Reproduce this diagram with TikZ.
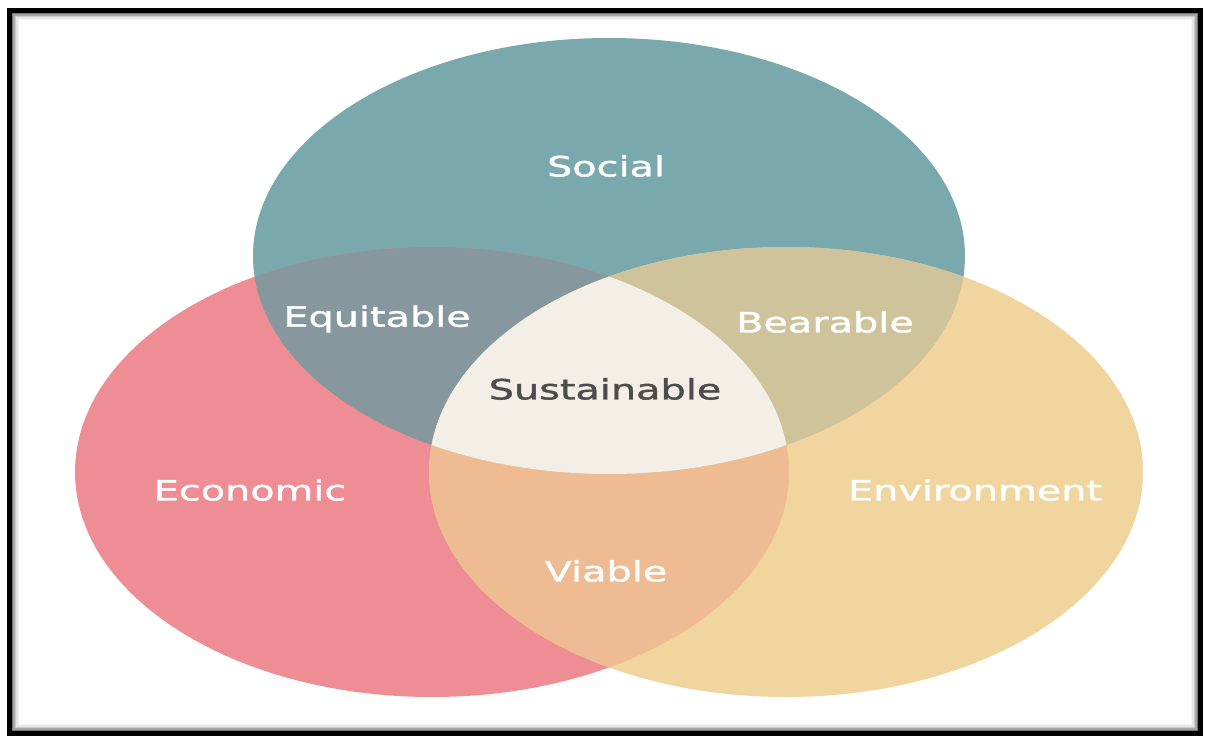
\documentclass[tikz,border=0pt]{standalone}
\usepackage{fontspec}
\newfontfamily\vennfont[FakeStretch=1.42, FakeBold=1.3]{DejaVu Sans}
\usetikzlibrary{positioning}

\definecolor{socialC}{HTML}{79A9AC}
\definecolor{econC}{HTML}{EE8D93}
\definecolor{envC}{HTML}{F0D59E}
\definecolor{equitC}{HTML}{86979E}
\definecolor{bearC}{HTML}{CEC39A}
\definecolor{viabC}{HTML}{EEBB93}
\definecolor{sustC}{HTML}{F3EFE6}

\begin{document}
\begin{tikzpicture}[x=1pt, y=-1pt,
    lbl/.style={font=\vennfont\fontsize{28}{30}\selectfont, text=white, inner sep=0pt},
    social/.style={insert path={(609,256) ellipse [x radius=356, y radius=218]}},
    econ/.style={insert path={(432,472) ellipse [x radius=357, y radius=225]}},
    env/.style={insert path={(786,472) ellipse [x radius=357, y radius=225]}}]
    \useasboundingbox (0,0) rectangle (1205,736);
    \fill[white] (0,0) rectangle (1205,736);

    % the three circles
    \fill[socialC, social];
    \fill[econC, econ];
    \fill[envC, env];

    % overlaps
    \begin{scope}
        \clip[econ];
        \fill[equitC, social];
        \fill[viabC, env];
    \end{scope}
    \begin{scope}
        \clip[env];
        \fill[bearC, social];
    \end{scope}
    \begin{scope}
        \clip[econ];
        \clip[env];
        \fill[sustC, social];
    \end{scope}

    % labels
    \node[lbl] (social) at (606,166) {Social};
    \node[lbl] (equitable) at (377,319) {Equitable};
    \node[lbl] (bearable) at (825,322) {Bearable};
    \node[lbl, text=black!70] (sustainable) at (605,389) {Sustainable};
    \node[lbl] (economic) at (250,490) {Economic};
    \node[lbl] (environment) at (975,490) {Environment};
    \node[lbl] (viable) at (606,571) {Viable};

    % frame with inner shadow
    \foreach \d/\g in {3/55, 4.5/35, 6/20, 7.5/10, 9/4} {
        \draw[black!\g, line width=1.6pt] (9.5+\d,10.5+\d) rectangle (1200.5-\d,733.5-\d);
    }
    \draw[line width=5pt] (9.5,10.5) rectangle (1200.5,733.5);
\end{tikzpicture}
\end{document}
